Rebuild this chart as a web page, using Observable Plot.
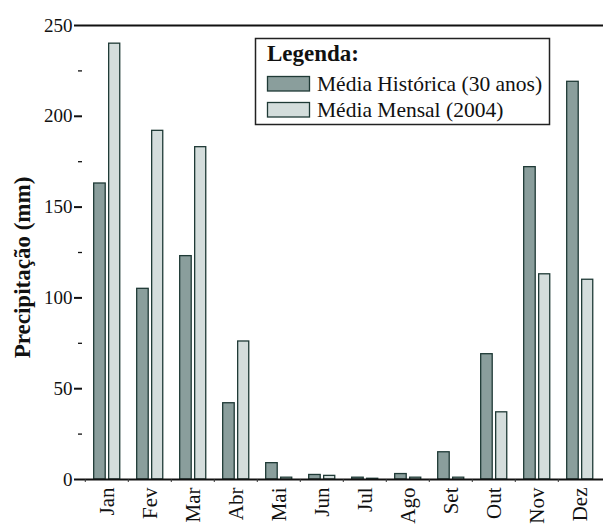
<!DOCTYPE html>
<html>
<head>
<meta charset="utf-8">
<script src="https://cdn.jsdelivr.net/npm/d3@7"></script>
<script src="https://cdn.jsdelivr.net/npm/@observablehq/plot@0.6"></script>
<style>
  html, body { margin: 0; padding: 0; background: #fff; }
  #wrap { position: relative; width: 603px; height: 524px; }
  #wrap svg { display: block; }
  #legend { position: absolute; left: 0; top: 0; }
</style>
</head>
<body>
<div id="wrap"></div>
<script>
const months = ["Jan","Fev","Mar","Abr","Mai","Jun","Jul","Ago","Set","Out","Nov","Dez"];
const historica = [163, 105, 123, 42, 9, 2.5, 1, 3, 15, 69, 172, 219];
const mensal2004 = [240, 192, 183, 76, 1, 2, 0.4, 1, 1, 37, 113, 110];
const yTicks = [0, 50, 100, 150, 200, 250];
const yMinorTicks = [25, 75, 125, 175, 225];
const seriesNames = ["Média Histórica (30 anos)", "Média Mensal (2004)"];
const legendTitle = "Legenda:";
const yLabel = "Precipitação (mm)";

const colDark = "#8a9e9c";
const colLight = "#d4dddc";
const colStroke = "#1f3a36";
const font = "'Liberation Serif', 'Times New Roman', serif";

const W = 603, H = 524, mL = 82, mR = 0, mT = 25, mB = 45;
const bw = (W - mL - mR) / months.length;

const dataH = months.map((m, i) => ({month: m, value: historica[i]}));
const dataM = months.map((m, i) => ({month: m, value: mensal2004[i]}));

const chart = Plot.plot({
  width: W, height: H,
  marginLeft: mL, marginRight: mR, marginTop: mT, marginBottom: mB,
  style: {fontFamily: font, color: "#111", background: "#fff"},
  x: {domain: months, padding: 0},
  y: {domain: [0, 250]},
  marks: [
    Plot.barY(dataH, {x: "month", y: "value", fill: colDark, stroke: colStroke, strokeWidth: 1.3,
      insetLeft: bw * 0.2, insetRight: bw * 0.525}),
    Plot.barY(dataM, {x: "month", y: "value", fill: colLight, stroke: colStroke, strokeWidth: 1.3,
      insetLeft: bw * 0.545, insetRight: bw * 0.19}),
    Plot.ruleY([0], {stroke: "#111", strokeWidth: 2}),
    Plot.ruleY([250], {stroke: "#111", strokeWidth: 2}),
    Plot.axisY({ticks: yTicks, tickSize: 8, tickPadding: 2, fontSize: 19, line: true,
      stroke: "#111", strokeWidth: 2, label: null, tickFormat: d => String(d)}),
    Plot.axisY({ticks: yMinorTicks, tickSize: 4, text: null, label: null, stroke: "#111", strokeWidth: 1.3}),
    Plot.axisX({tickSize: 0, tickPadding: 8, tickRotate: -90, fontSize: 21, label: null}),
    Plot.axisX({tickSize: 3, text: null, label: null, dx: -bw / 2, stroke: "#333", strokeWidth: 1}),
    Plot.text([yLabel], {frameAnchor: "left", dx: -60, dy: 15, rotate: -90, textAnchor: "middle",
      fontSize: 23, fontWeight: "bold", fill: "#111"})
  ]
});

const wrap = document.getElementById("wrap");
wrap.appendChild(chart);

// Legend overlay
const ns = "http://www.w3.org/2000/svg";
const lg = document.createElementNS(ns, "svg");
lg.setAttribute("id", "legend");
lg.setAttribute("width", W);
lg.setAttribute("height", 140);
lg.style.fontFamily = font;
function el(tag, attrs, text) {
  const e = document.createElementNS(ns, tag);
  for (const k in attrs) e.setAttribute(k, attrs[k]);
  if (text != null) e.textContent = text;
  lg.appendChild(e);
  return e;
}
el("rect", {x: 255.5, y: 38.5, width: 294, height: 86, fill: "#fff", stroke: "#222", "stroke-width": 1.5});
el("text", {x: 267, y: 61, "font-size": 23, "font-weight": "bold", fill: "#111"}, legendTitle);
const sw = [colDark, colLight];
seriesNames.forEach((name, i) => {
  const y0 = 76.5 + i * 26;
  el("rect", {x: 267.5, y: y0, width: 42, height: 14.5, fill: sw[i], stroke: colStroke, "stroke-width": 1.3});
  el("text", {x: 317, y: 91 + i * 25.5, "font-size": 21.5, fill: "#111"}, name);
});
wrap.appendChild(lg);
</script>
</body>
</html>
